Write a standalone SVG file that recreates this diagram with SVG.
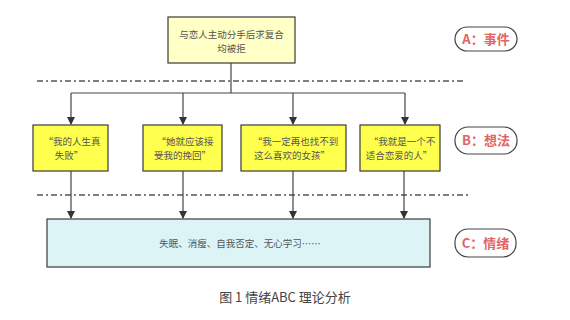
<svg xmlns="http://www.w3.org/2000/svg" width="570" height="320" viewBox="0 0 570 320">
<style>
.box{stroke:#3a3a3a;stroke-width:1.2}
.t{font-family:"Noto Sans CJK SC","Noto Sans",sans-serif;font-size:9.5px;fill:#555;text-anchor:middle}
.lbl{fill:#fff;stroke:#444;stroke-width:1.2}
.lt{font-family:"Noto Sans CJK SC","Noto Sans",sans-serif;font-size:13px;font-weight:bold;fill:#e06666;text-anchor:middle}
.conn{stroke:#444;stroke-width:1.2;fill:none}
.sep{stroke:#555;stroke-width:1.5;stroke-dasharray:6 3 2 3;fill:none}
.cap{font-family:"Noto Sans CJK SC","Noto Sans",sans-serif;font-size:13px;fill:#444;text-anchor:middle}
</style>
<defs>
<marker id="ah" markerWidth="8" markerHeight="8" refX="7" refY="4" orient="auto" markerUnits="userSpaceOnUse">
<path d="M0,0 L8,4 L0,8 Z" fill="#333"/>
</marker>
</defs>
<rect width="570" height="320" fill="#fff"/>
<g id="separators">
<line class="sep" x1="37" y1="81" x2="466" y2="81"/>
<line class="sep" x1="37" y1="195" x2="470" y2="195"/>
</g>
<g id="connectors">
<line class="conn" x1="231" y1="63" x2="231" y2="93"/>
<line class="conn" x1="71" y1="93" x2="405" y2="93"/>
<line class="conn" x1="71" y1="93" x2="71" y2="124" marker-end="url(#ah)"/>
<line class="conn" x1="183" y1="93" x2="183" y2="124" marker-end="url(#ah)"/>
<line class="conn" x1="293" y1="93" x2="293" y2="124" marker-end="url(#ah)"/>
<line class="conn" x1="405" y1="93" x2="405" y2="124" marker-end="url(#ah)"/>
<line class="conn" x1="71" y1="171" x2="71" y2="218" marker-end="url(#ah)"/>
<line class="conn" x1="183" y1="171" x2="183" y2="218" marker-end="url(#ah)"/>
<line class="conn" x1="293" y1="171" x2="293" y2="218" marker-end="url(#ah)"/>
<line class="conn" x1="404" y1="171" x2="404" y2="218" marker-end="url(#ah)"/>
</g>
<g id="event">
<rect class="box" x="168" y="17" width="127" height="46" fill="#ffffc6"/>
<text class="t" x="231.5" y="38">与恋人主动分手后求复合</text>
<text class="t" x="231.5" y="52">均被拒</text>
</g>
<g id="belief1">
<rect class="box" x="33" y="125" width="75" height="46" fill="#ffff4d"/>
<text class="t" x="72" y="145">“我的人生真</text>
<text class="t" x="69" y="159">失败”</text>
</g>
<g id="belief2">
<rect class="box" x="143" y="125" width="79" height="46" fill="#ffff4d"/>
<text class="t" x="185" y="145">“她就应该接</text>
<text class="t" x="182.5" y="159">受我的挽回”</text>
</g>
<g id="belief3">
<rect class="box" x="241" y="125" width="105" height="46" fill="#ffff4d"/>
<text class="t" x="295.5" y="145">“我一定再也找不到</text>
<text class="t" x="292" y="159">这么喜欢的女孩”</text>
</g>
<g id="belief4">
<rect class="box" x="360" y="125" width="80" height="46" fill="#ffff4d"/>
<text class="t" x="402" y="145">“我就是一个不</text>
<text class="t" x="399" y="159">适合恋爱的人”</text>
</g>
<g id="consequence">
<rect class="box" x="47" y="219" width="383" height="48" fill="#dcf4f6"/>
<text class="t" x="240" y="247">失眠、消瘦、自我否定、无心学习……</text>
</g>
<g id="labelA">
<rect class="lbl" x="455" y="27" width="62" height="24" rx="12"/>
<text class="lt" x="486" y="44">A：事件</text>
</g>
<g id="labelB">
<rect class="lbl" x="455" y="127" width="62" height="27" rx="13"/>
<text class="lt" x="486" y="145">B：想法</text>
</g>
<g id="labelC">
<rect class="lbl" x="455" y="229" width="61" height="28" rx="13"/>
<text class="lt" x="485.5" y="248">C：情绪</text>
</g>
<text class="cap" x="285" y="302">图 1 情绪ABC 理论分析</text>
</svg>
